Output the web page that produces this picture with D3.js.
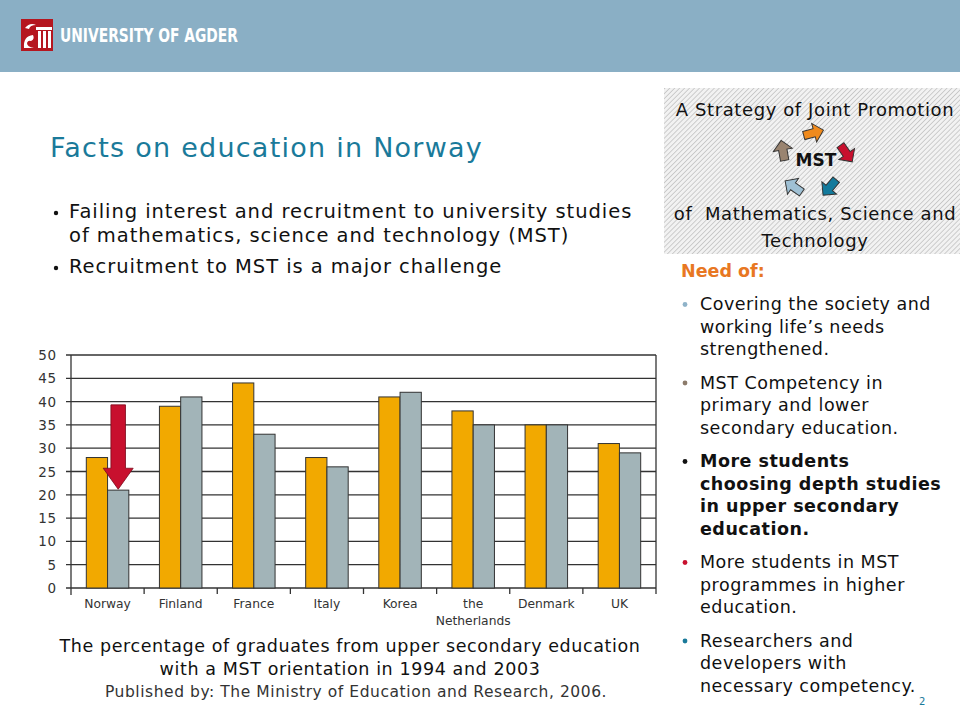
<!DOCTYPE html>
<html>
<head>
<meta charset="utf-8">
<script src="https://cdn.jsdelivr.net/npm/d3@7"></script>
<style>
  body { margin: 0; background: #fff; }
  svg text { font-family: "DejaVu Sans", Verdana, sans-serif; }
</style>
</head>
<body>
<div id="slide"></div>
<script>
// chart data
var countries = ["Norway", "Finland", "France", "Italy", "Korea", "the Netherlands", "Denmark", "UK"];
var years = ["1994", "2003"];
var values1994 = [28, 39, 44, 28, 41, 38, 35, 31];
var values2003 = [21, 41, 33, 26, 42, 35, 35, 29];
var yTicks = [0, 5, 10, 15, 20, 25, 30, 35, 40, 45, 50];
// the red drop arrow over Norway (from / to, in %)
var dropFrom = 39.3, dropTo = 21.2, dropHead = 25.7;

var barColors = {"1994": "#f2a900", "2003": "#a2b4b8"};

var needs = [
	{dot: "#8fb3c9", bold: false, lines: ["Covering the society and", "working life\u2019s needs", "strengthened."]},
	{dot: "#8c7b6b", bold: false, lines: ["MST Competency in", "primary and lower", "secondary education."]},
	{dot: "#111", bold: true, lines: ["More students", "choosing depth studies", "in upper secondary", "education."]},
	{dot: "#c8102e", bold: false, lines: ["More students in MST", "programmes in higher", "education."]},
	{dot: "#1a7a9a", bold: false, lines: ["Researchers and", "developers with", "necessary competency."]}
];

var svg = d3.select("#slide").append("svg")
	.attr("width", 960)
	.attr("height", 720);

var defs = svg.append("defs");
var hatch = defs.append("pattern")
	.attr("id", "hatch")
	.attr("width", 3.5).attr("height", 3.5)
	.attr("patternUnits", "userSpaceOnUse")
	.attr("patternTransform", "rotate(45)");
hatch.append("rect").attr("width", 3.5).attr("height", 3.5).attr("fill", "#f2f2f2");
hatch.append("line").attr("x1", 0).attr("y1", 0).attr("x2", 0).attr("y2", 3.5)
	.attr("stroke", "#b4b4b4").attr("stroke-width", 1.2);

// header band
svg.append("rect").attr("width", 960).attr("height", 72).attr("fill", "#8aafc5");
var logo = svg.append("g").attr("transform", "translate(21,19)");
logo.append("rect").attr("width", 32).attr("height", 32).attr("fill", "#b5161f");
logo.append("rect").attr("x", 17).attr("y", 12).attr("width", 3).attr("height", 17).attr("fill", "#fff");
logo.append("rect").attr("x", 22).attr("y", 12).attr("width", 3).attr("height", 17).attr("fill", "#fff");
logo.append("rect").attr("x", 27).attr("y", 12).attr("width", 3).attr("height", 17).attr("fill", "#fff");
logo.append("rect").attr("x", 15).attr("y", 8).attr("width", 16).attr("height", 3).attr("fill", "#fff");
logo.append("path").attr("d", "M4,9 Q9,3 15,6 Q9,6 8,10 Z").attr("fill", "#fff");
logo.append("path").attr("d", "M3,29 Q2,17 12,16 Q14,20 10,22 Q7,21 6,24 Q6,28 13,29 Z").attr("fill", "#fff");
svg.append("text").attr("x", 60).attr("y", 42)
	.attr("fill", "#fff").attr("font-size", 19).attr("font-weight", "bold")
	.attr("textLength", 178).attr("lengthAdjust", "spacingAndGlyphs")
	.style("font-family", "'DejaVu Sans Condensed', 'Liberation Sans Narrow', sans-serif")
	.text("UNIVERSITY OF AGDER");

// title + intro bullets
svg.append("text").attr("x", 50).attr("y", 157)
	.attr("fill", "#1a7a9a").attr("font-size", 27).attr("letter-spacing", 1.25)
	.text("Facts on education in Norway");

var intro = [
	{y: 218, bullet: true, t: "Failing interest and recruitment to university studies"},
	{y: 242, bullet: false, t: "of mathematics, science and technology (MST)"},
	{y: 273, bullet: true, t: "Recruitment to MST is a major challenge"}
];
intro.forEach(function(d) {
	if (d.bullet) svg.append("circle").attr("cx", 56).attr("cy", d.y - 5).attr("r", 2.2).attr("fill", "#111");
	svg.append("text").attr("x", 69).attr("y", d.y)
		.attr("font-size", 19.5).attr("fill", "#111").attr("letter-spacing", 0.95)
		.text(d.t);
});

// ---- bar chart ----
var plotL = 71, plotR = 656, plotT = 355, plotB = 588;
var x0 = d3.scaleBand().domain(countries).range([plotL, plotR]).paddingInner(0);
var x1 = d3.scaleBand().domain(years).range([0, x0.bandwidth()]).paddingInner(0).paddingOuter(0.72);
var y = d3.scaleLinear().domain([0, 50]).range([plotB, plotT]);

var chart = svg.append("g");

chart.selectAll(".grid").data(yTicks).enter().append("line")
	.attr("x1", plotL - 5).attr("x2", plotR)
	.attr("y1", function(d) { return y(d); }).attr("y2", function(d) { return y(d); })
	.attr("stroke", "#333").attr("stroke-width", 1.3);

chart.selectAll(".ylab").data(yTicks).enter().append("text")
	.attr("x", 57).attr("y", function(d) { return y(d) + 5; })
	.attr("text-anchor", "end").attr("font-size", 13.5).attr("fill", "#333")
	.attr("letter-spacing", 0.8)
	.text(function(d) { return d; });

// left axis, right border, x ticks
chart.append("line").attr("x1", plotL).attr("x2", plotL).attr("y1", plotT).attr("y2", plotB + 7)
	.attr("stroke", "#333").attr("stroke-width", 1.3);
chart.append("line").attr("x1", plotR).attr("x2", plotR).attr("y1", plotT).attr("y2", plotB + 6)
	.attr("stroke", "#333").attr("stroke-width", 1.3);
chart.selectAll(".xtick").data(countries.slice(1)).enter().append("line")
	.attr("x1", function(d) { return x0(d); }).attr("x2", function(d) { return x0(d); })
	.attr("y1", plotB).attr("y2", plotB + 6)
	.attr("stroke", "#333").attr("stroke-width", 1.3);

var rows = countries.map(function(c, i) {
	return {country: c, vals: [{year: "1994", v: values1994[i]}, {year: "2003", v: values2003[i]}]};
});

var groups = chart.selectAll(".grp").data(rows).enter().append("g")
	.attr("transform", function(d) { return "translate(" + x0(d.country) + ",0)"; });
groups.selectAll("rect").data(function(d) { return d.vals; }).enter().append("rect")
	.attr("x", function(d) { return x1(d.year); })
	.attr("width", x1.bandwidth())
	.attr("y", function(d) { return y(d.v); })
	.attr("height", function(d) { return plotB - y(d.v); })
	.attr("fill", function(d) { return barColors[d.year]; })
	.attr("stroke", "#333").attr("stroke-width", 1);

// category labels
groups.append("text")
	.attr("x", x0.bandwidth() / 2).attr("y", plotB + 20)
	.attr("text-anchor", "middle").attr("font-size", 12.3).attr("fill", "#333")
	.each(function(d) {
		var parts = d.country === "the Netherlands" ? ["the", "Netherlands"] : [d.country];
		var t = d3.select(this);
		parts.forEach(function(p, i) {
			t.append("tspan").attr("x", x0.bandwidth() / 2).attr("dy", i ? 17 : 0).text(p);
		});
	});

// red drop arrow
var ax = x0("Norway") + x1("2003") + x1.bandwidth() / 2;
var shaftW = 7.3, headW = 15;
chart.append("path")
	.attr("d", "M" + (ax - shaftW) + "," + y(dropFrom) +
		"L" + (ax + shaftW) + "," + y(dropFrom) +
		"L" + (ax + shaftW) + "," + y(dropHead) +
		"L" + (ax + headW) + "," + y(dropHead) +
		"L" + ax + "," + y(dropTo) +
		"L" + (ax - headW) + "," + y(dropHead) +
		"L" + (ax - shaftW) + "," + y(dropHead) + "Z")
	.attr("fill", "#c8102e").attr("stroke", "#7a0a1a").attr("stroke-width", 0.8);

// caption
var caption = [
	{y: 652, x: 350, size: 17.5, ls: 0.6, t: "The percentage of graduates from upper secondary education"},
	{y: 675, x: 350, size: 17.5, ls: 0.6, t: "with a MST orientation in 1994 and 2003"},
	{y: 697, x: 356, size: 15.5, ls: 0.56, t: "Published by: The Ministry of Education and Research, 2006."}
];
caption.forEach(function(d) {
	svg.append("text").attr("x", d.x).attr("y", d.y).attr("text-anchor", "middle")
		.attr("font-size", d.size).attr("letter-spacing", d.ls)
		.attr("fill", d.size < 16 ? "#333" : "#111")
		.text(d.t);
});

// ---- right panel ----
svg.append("rect").attr("x", 664).attr("y", 88).attr("width", 296).attr("height", 166).attr("fill", "url(#hatch)");
var boxText = [
	{y: 116, t: "A Strategy of Joint Promotion"},
	{y: 220, t: "of  Mathematics, Science and"},
	{y: 247, t: "Technology"}
];
boxText.forEach(function(d) {
	svg.append("text").attr("x", 815).attr("y", d.y).attr("text-anchor", "middle")
		.attr("font-size", 18).attr("letter-spacing", 0.6).attr("fill", "#111")
		.attr("xml:space", "preserve").text(d.t);
});
svg.append("text").attr("x", 816).attr("y", 166).attr("text-anchor", "middle")
	.attr("font-size", 17).attr("font-weight", "bold").attr("fill", "#111").text("MST");

var mstArrows = [
	{x: 813, y: 133, r: -15, c: "#f08a1c"},
	{x: 846, y: 153, r: 55, c: "#c8102e"},
	{x: 830, y: 187, r: 130, c: "#137a9c"},
	{x: 794, y: 187, r: 215, c: "#9fc0d4"},
	{x: 783, y: 151, r: 260, c: "#9a8470"}
];
svg.selectAll(".mstArrow").data(mstArrows).enter().append("path")
	.attr("transform", function(d) { return "translate(" + d.x + "," + d.y + ") rotate(" + d.r + ") scale(1.2)"; })
	.attr("d", "M-8,-3.5 L1,-3.5 L1,-8 L9,0 L1,8 L1,3.5 L-8,3.5 Z")
	.attr("fill", function(d) { return d.c; })
	.attr("stroke", "#333").attr("stroke-width", 0.8);

svg.append("text").attr("x", 681).attr("y", 277)
	.attr("font-size", 17.5).attr("font-weight", "bold").attr("fill", "#e87722").text("Need of:");

var ny = 310;
needs.forEach(function(n) {
	svg.append("circle").attr("cx", 685).attr("cy", ny - 5.5).attr("r", 2.4).attr("fill", n.dot);
	n.lines.forEach(function(l, i) {
		svg.append("text").attr("x", 700).attr("y", ny + i * 22.5)
			.attr("font-size", 17.5).attr("letter-spacing", 0.5).attr("fill", "#111")
			.attr("font-weight", n.bold ? "bold" : "normal")
			.text(l);
	});
	ny += n.lines.length * 22.5 + 11;
});

svg.append("text").attr("x", 919).attr("y", 705)
	.attr("font-size", 10).attr("fill", "#1a7a9a").text("2");
</script>
</body>
</html>
